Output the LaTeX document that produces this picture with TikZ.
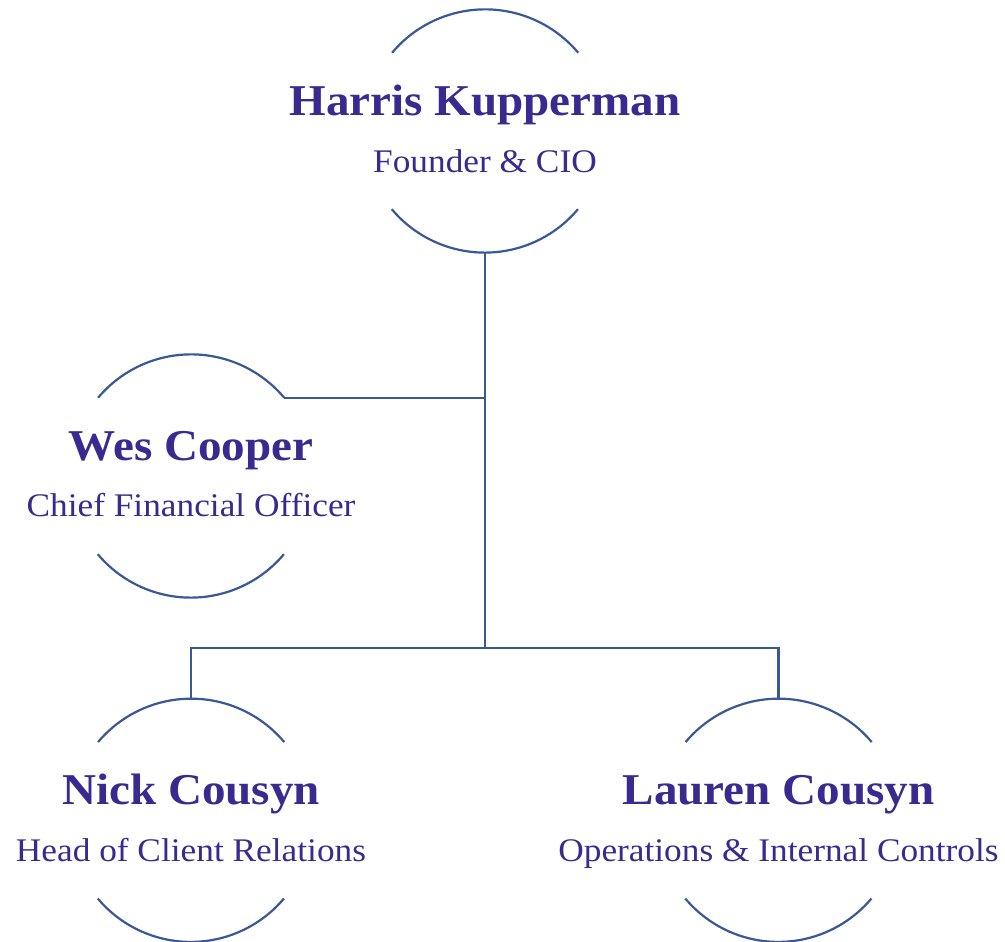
\documentclass[tikz,border=0pt]{standalone}
\usepackage{fontspec}
\setmainfont{Liberation Serif}
\newfontfamily\pfont[FakeStretch=1.07]{Liberation Serif}
\definecolor{linec}{HTML}{3B5896}
\definecolor{textc}{HTML}{3A2A90}
\tikzset{
  person/.style={circle, minimum size=243pt, inner sep=0pt, draw=none},
  pname/.style={anchor=base, text=textc, font=\pfont\fontsize{44}{50}\selectfont\bfseries, inner sep=0pt},
  ptitle/.style={anchor=base, text=textc, font=\pfont\fontsize{33}{38}\selectfont, inner sep=0pt},
  conn/.style={draw=linec, line width=2.2pt},
  rim/.style={draw=linec, line width=2.2pt},
}
\newcommand{\rims}[1]{%
  \draw[rim] (#1.40) arc[start angle=40, end angle=140, radius=121.5pt];
  \draw[rim] (#1.220) arc[start angle=220, end angle=320, radius=121.5pt];
}
\begin{document}
\begin{tikzpicture}[x=1pt,y=1pt]
\useasboundingbox (0,0) rectangle (1005,942);
\node[person] (harris) at (485,811) {};
\node[person] (wes) at (191,466) {};
\node[person] (nick) at (191,121.7) {};
\node[person] (lauren) at (778.5,121.7) {};
\rims{harris}
\rims{wes}
\rims{nick}
\rims{lauren}
\node[pname] (harrisN) at (485,826.5) {Harris Kupperman};
\node[ptitle] (harrisT) at (485,769.5) {Founder \& CIO};
\node[pname] (wesN) at (191,481.5) {Wes Cooper};
\node[ptitle] (wesT) at (191,425) {Chief Financial Officer};
\node[pname] (nickN) at (191,137.2) {Nick Cousyn};
\node[ptitle] (nickT) at (191,80.2) {Head of Client Relations};
\node[pname] (laurenN) at (778.5,137.2) {Lauren Cousyn};
\node[ptitle] (laurenT) at (778.5,80.2) {Operations \& Internal Controls};
\coordinate (junc) at (485,294);
\draw[conn] (harris.south) -- (junc);
\draw[conn] (wes.40) -- (wes.40 -| harris.south);
\draw[conn] (nick.north) |- (junc) -| (lauren.north);
\end{tikzpicture}
\end{document}
